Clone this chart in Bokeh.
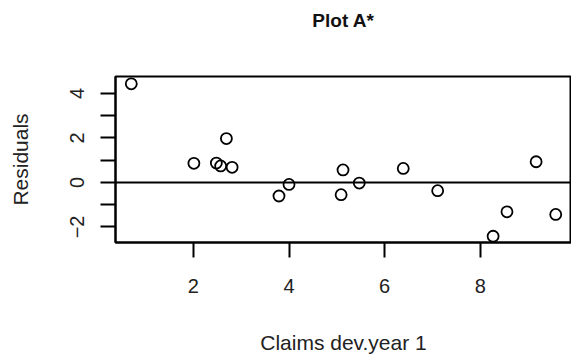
from bokeh.plotting import figure
from bokeh.models import Range1d, FixedTicker, Span, Title
from bokeh.embed import file_html
from bokeh.resources import INLINE

claims = [0.70, 2.01, 2.48, 2.57, 2.69, 2.81, 3.79, 4.00, 5.13, 5.09, 5.47, 6.39, 7.11, 8.27, 8.56, 9.17, 9.58]
resid = [4.43, 0.86, 0.87, 0.74, 1.97, 0.68, -0.61, -0.09, 0.56, -0.55, -0.03, 0.63, -0.37, -2.42, -1.32, 0.93, -1.44]

x_ticks = [2, 4, 6, 8]
y_ticks = [-2, -1, 0, 1, 2, 3, 4]
y_labels = {-2: "\u22122", -1: "", 0: "0", 1: "", 2: "2", 3: "", 4: "4"}

FONT = "Liberation Sans"

p = figure(width=571, height=358, output_backend="svg", toolbar_location=None,
           x_range=Range1d(0.37, 9.91), y_range=Range1d(-2.70, 4.76),
           min_border_left=115, min_border_right=0, min_border_top=76, min_border_bottom=116)

p.xgrid.visible = False
p.ygrid.visible = False
p.outline_line_color = "black"
p.outline_line_width = 2
p.background_fill_color = "white"
p.border_fill_color = "white"

for ax in (p.xaxis[0], p.yaxis[0]):
    ax.axis_line_width = 2
    ax.major_tick_line_width = 2
    ax.major_tick_in = 0
    ax.major_tick_out = 15
    ax.minor_tick_line_color = None
    ax.major_label_text_font = FONT
    ax.major_label_text_font_size = "20px"
    ax.major_label_text_color = "#222222"
    ax.axis_label_text_font = FONT
    ax.axis_label_text_font_size = "21px"
    ax.axis_label_text_font_style = "normal"
    ax.axis_label_text_color = "#222222"

p.xaxis.ticker = FixedTicker(ticks=x_ticks)
p.yaxis.ticker = FixedTicker(ticks=y_ticks)
p.yaxis.major_label_overrides = y_labels
p.yaxis.major_label_orientation = "vertical"
p.xaxis.major_label_standoff = 21
p.yaxis.major_label_standoff = 16
p.xaxis.axis_label = "Claims dev.year 1"
p.yaxis.axis_label = "Residuals"
p.xaxis.axis_label_standoff = 35
p.yaxis.axis_label_standoff = 36

p.add_layout(Span(location=0, dimension="width", line_color="black", line_width=2))

p.scatter(claims, resid, marker="circle", size=11, fill_color=None,
          line_color="black", line_width=1.8)

spacer = Title(text=" ", align="center", standoff=0,
               text_font=FONT, text_font_size="40px", text_color="white")
main_title = Title(text="Plot A*", align="center", standoff=0,
                   text_font=FONT, text_font_style="bold", text_font_size="19px",
                   text_color="#111111")
p.add_layout(spacer, "above")
p.add_layout(main_title, "above")

open("out.html", "w").write(file_html(p, INLINE))
